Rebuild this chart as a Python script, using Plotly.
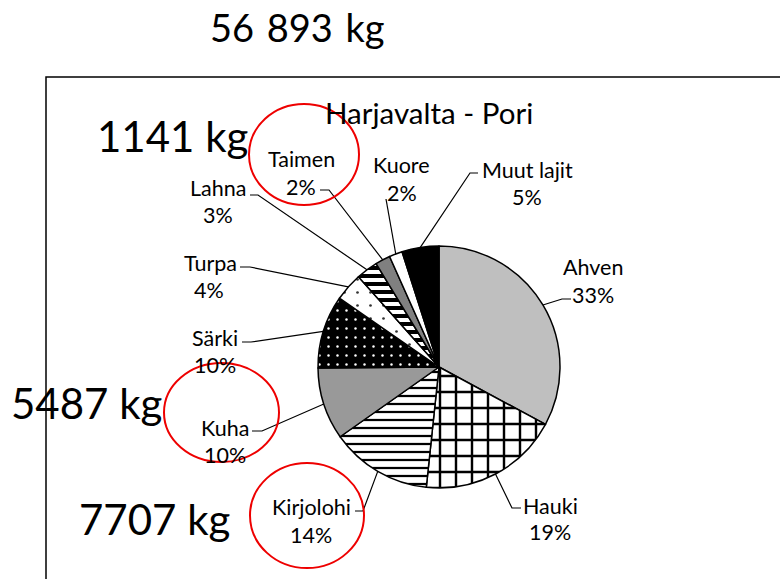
import math
import plotly.graph_objects as go

# ---------------- data ----------------
species = ["Ahven", "Hauki", "Kirjolohi", "Kuha", "Särki",
           "Turpa", "Lahna", "Taimen", "Kuore", "Muut lajit"]
catch_kg = [18700, 10700, 7707, 5487, 5550, 2150, 1650, 1141, 1000, 2808]
title_text = "Harjavalta - Pori"
highlighted = ["Taimen", "Kuha", "Kirjolohi"]   # species with circled kg callouts

# ---------------- styles ----------------
fill_colors = ["#BFBFBF", "white", "white", "#999999", "black",
               "white", "white", "#808080", "white", "black"]
pat_shape = ["", "+", "-", "", ".", ".", "-", "", "", ""]
pat_fg = ["black", "black", "black", "black", "white",
          "#333333", "black", "black", "black", "black"]
pat_bg = fill_colors
pat_size = [8, 16, 8, 8, 9, 13, 8, 8, 8, 8]
pat_solid = [0.3, 0.28, 0.28, 0.3, 0.06, 0.035, 0.5, 0.3, 0.3, 0.3]

W, H = 780, 579
FONT = "Lato, 'Liberation Sans', Arial, sans-serif"
CX, CY, R = 439, 367, 121          # pie centre / radius in pixels

# label layout (pixel positions): name centre, pct centre, leader elbow points
label_pos = {
    "Ahven":      dict(name=(593, 267), pct=(593, 295), elbow=[(562, 299), (571, 299)]),
    "Hauki":      dict(name=(550, 506), pct=(550, 532), elbow=[(512, 508), (521, 508)]),
    "Kirjolohi":  dict(name=(311, 507), pct=(311, 535), elbow=[(363, 511), (355, 511)]),
    "Kuha":       dict(name=(225, 428), pct=(225, 455), elbow=[(262, 431), (252, 431)]),
    "Särki":      dict(name=(215, 338), pct=(215, 365), elbow=[(251, 342), (242, 342)]),
    "Turpa":      dict(name=(210, 263), pct=(209, 290), elbow=[(250, 267), (240, 267)]),
    "Lahna":      dict(name=(218, 188), pct=(218, 215), elbow=[(258, 195), (250, 195)]),
    "Taimen":     dict(name=(301, 159), pct=(301, 187), elbow=[(329, 190), (320, 190)]),
    "Kuore":      dict(name=(402, 165), pct=(402, 193), elbow=[(386, 199)]),
    "Muut lajit": dict(name=(527, 170), pct=(527, 197), elbow=[(470, 173), (478, 173)]),
}
callout_pos = {"Taimen": (172, 136), "Kuha": (86, 403), "Kirjolohi": (154, 519)}
ellipse_pos = {"Taimen": (249, 104, 359, 205), "Kuha": (164, 363, 279, 462),
               "Kirjolohi": (250, 463, 364, 568)}


def px(x):
    return x / W


def py(y):
    return 1 - y / H


def fmt_kg(v):
    if v >= 10000:
        return f"{v:,}".replace(",", "\u2004") + "\u2004kg"
    return f"{v} kg"


total = sum(catch_kg)

fig = go.Figure()
fig.add_trace(go.Pie(
    values=catch_kg, labels=species, sort=False, direction="clockwise",
    rotation=0, textinfo="none", hoverinfo="label+value+percent",
    showlegend=False,
    domain=dict(x=[px(CX - R), px(CX + R)], y=[py(CY + R), py(CY - R)]),
    marker=dict(colors=fill_colors, line=dict(color="black", width=1.5),
                pattern=dict(shape=pat_shape, fgcolor=pat_fg, bgcolor=pat_bg,
                             size=pat_size, solidity=pat_solid)),
))

annotations = []
shapes = []


def add_text(x, y, text, size):
    annotations.append(dict(x=px(x), y=py(y), xref="paper", yref="paper",
                            xanchor="center", yanchor="middle",
                            text=text, showarrow=False,
                            font=dict(family=FONT, size=size, color="black")))


# title
add_text(429, 113, title_text, 29.5)

# slice labels and leader lines
cum = 0
for name, v in zip(species, catch_kg):
    mid = (cum + v / 2) / total * 2 * math.pi
    cum += v
    ex, ey = CX + R * math.sin(mid), CY - R * math.cos(mid)
    lp = label_pos[name]
    pct = round(100 * v / total)
    add_text(lp["name"][0], lp["name"][1], name, 21.5)
    add_text(lp["pct"][0], lp["pct"][1], f"{pct}%", 21.5)
    pts = [(ex, ey)] + lp["elbow"]
    path = "M " + " L ".join(f"{px(a)},{py(b)}" for a, b in pts)
    shapes.append(dict(type="path", xref="paper", yref="paper", path=path,
                       line=dict(color="black", width=1.2)))

# kg callouts + red ellipses
for name in highlighted:
    v = catch_kg[species.index(name)]
    cx_, cy_ = callout_pos[name]
    add_text(cx_, cy_, fmt_kg(v), 42)
    x0, y0, x1, y1 = ellipse_pos[name]
    shapes.append(dict(type="circle", xref="paper", yref="paper",
                       x0=px(x0), x1=px(x1), y0=py(y1), y1=py(y0),
                       line=dict(color="#EE0000", width=2)))

# total
add_text(297, 27, fmt_kg(total), 38)

# chart-area border (partially visible)
shapes.append(dict(type="path", xref="paper", yref="paper",
                   path=f"M {px(46)},{py(600)} L {px(46)},{py(77)} L {px(800)},{py(77)}",
                   line=dict(color="black", width=1.5)))

fig.update_layout(width=W, height=H, margin=dict(l=0, r=0, t=0, b=0),
                  paper_bgcolor="white", plot_bgcolor="white",
                  annotations=annotations, shapes=shapes)
fig.write_html("out.html", config={"displayModeBar": False},
               post_script="document.body.style.margin='0';document.body.style.overflow='hidden';")
